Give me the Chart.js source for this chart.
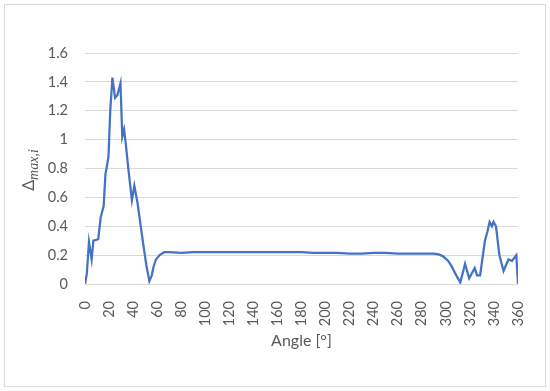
<!DOCTYPE html>
<html>
<head>
<meta charset="utf-8">
<script src="https://cdn.jsdelivr.net/npm/chart.js@4"></script>
<style>
  html, body { margin: 0; padding: 0; background: #fff; }
  #wrap { width: 550px; height: 391px; }
</style>
</head>
<body>
<div id="wrap"><canvas id="grafico" width="550" height="391"></canvas></div>
<script>
var angles = [0, 1.5, 3.3, 5.5, 7, 11, 13, 15.5, 17, 19.5, 21, 22.8, 25, 27, 29.5, 31, 32.5, 33.8, 36, 39, 41, 43.7, 48, 51, 53.5,
    55.5, 57, 59, 62, 66, 70, 80, 90, 100, 110, 120, 130, 140, 150, 160, 170, 180, 190, 200, 210, 220, 230, 240, 250,
    260, 270, 280, 290, 294, 298, 302, 305, 308, 312, 316, 319.4, 322, 324, 326, 328.5, 332.5, 334.5, 336.4, 338.3,
    339.7, 341.7, 344.5, 348, 352, 355, 358.6, 360];
var deltaMax = [0, 0.07, 0.29, 0.17, 0.30, 0.31, 0.46, 0.54, 0.76, 0.88, 1.2, 1.43, 1.29, 1.31, 1.39, 1.02, 1.07, 0.98, 0.80, 0.58, 0.68, 0.56, 0.30, 0.13, 0.02,
    0.06, 0.12, 0.17, 0.20, 0.22, 0.22, 0.215, 0.22, 0.22, 0.22, 0.22, 0.22, 0.22, 0.22, 0.22, 0.22, 0.22, 0.215, 0.215, 0.215, 0.21, 0.21, 0.215, 0.215,
    0.21, 0.21, 0.21, 0.21, 0.205, 0.19, 0.16, 0.12, 0.07, 0.01, 0.14, 0.04, 0.08, 0.11, 0.06, 0.06, 0.30, 0.36, 0.43, 0.40,
    0.43, 0.40, 0.20, 0.09, 0.17, 0.16, 0.20, 0];
var xTicks = [0, 20, 40, 60, 80, 100, 120, 140, 160, 180, 200, 220, 240, 260, 280, 300, 320, 340, 360];
var yTicks = [0, 0.2, 0.4, 0.6, 0.8, 1, 1.2, 1.4, 1.6];

var points = angles.map(function (a, i) { return { x: a, y: deltaMax[i] }; });
var textColor = '#595959';
var gridColor = '#d9d9d9';

// frame round the chart and the y title with its subscript
var extras = {
    id: 'extras',
    beforeDraw: function (chart) {
        var c = chart.ctx;
        c.save();
        c.strokeStyle = gridColor;
        c.lineWidth = 1;
        c.strokeRect(4.5, 4.5, 541, 382);
        c.restore();
    },
    afterDraw: function (chart) {
        var c = chart.ctx;
        c.save();
        c.translate(34, 170);
        c.rotate(-Math.PI / 2);
        c.fillStyle = textColor;
        c.textBaseline = 'alphabetic';
        c.font = '17px "Noto Sans"';
        var w1 = c.measureText('\u0394').width;
        c.font = 'italic 14px "Liberation Serif"';
        var w2 = c.measureText('max,i').width;
        var x0 = -(w1 + w2) / 2;
        c.font = '17px "Noto Sans"';
        c.fillText('\u0394', x0, 0);
        c.font = 'italic 14px "Liberation Serif"';
        c.fillText('max,i', x0 + w1, 4);
        c.restore();
    }
};

var ctx = document.querySelector('#grafico').getContext('2d');
var lineChart = new Chart(ctx, {
    type: 'line',
    data: {
        datasets: [{
            data: points,
            borderColor: '#4472c4',
            borderWidth: 2.25,
            pointRadius: 0,
            tension: 0,
            fill: false
        }]
    },
    options: {
        responsive: false,
        animation: false,
        events: [],
        layout: { padding: { top: 53, right: 32, left: 0, bottom: 0 } },
        plugins: { legend: { display: false }, tooltip: { enabled: false } },
        scales: {
            x: {
                type: 'linear',
                min: 0,
                max: 360,
                afterBuildTicks: function (s) { s.ticks = xTicks.map(function (v) { return { value: v }; }); },
                afterFit: function (s) { s.height = 107; },
                grid: { display: false },
                border: { display: false },
                ticks: {
                    minRotation: 90, maxRotation: 90, padding: 9, autoSkip: false,
                    color: textColor, font: { family: 'Lato', size: 14.5 }
                },
                title: {
                    display: true, text: 'Angle [\u00b0]', color: textColor,
                    font: { family: 'Lato', size: 16 }, padding: { top: 4, bottom: 41 }
                }
            },
            y: {
                min: 0,
                max: 1.6,
                afterBuildTicks: function (s) { s.ticks = yTicks.map(function (v) { return { value: v }; }); },
                afterFit: function (s) { s.width = 85; },
                grid: { color: gridColor, lineWidth: 1, drawTicks: false },
                border: { display: false },
                ticks: {
                    padding: 17, color: textColor, font: { family: 'Lato', size: 14.5 },
                    callback: function (v) { return String(v); }
                }
            }
        }
    },
    plugins: [extras]
});
</script>
</body>
</html>
